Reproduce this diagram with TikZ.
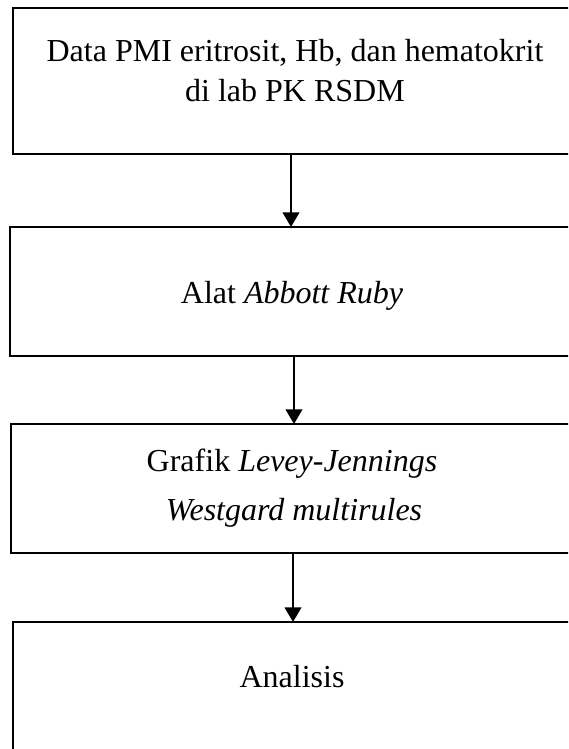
\documentclass[tikz,border=0pt]{standalone}
\usepackage{fontspec}
\setmainfont{Liberation Serif}
\usetikzlibrary{arrows.meta}
\begin{document}
\begin{tikzpicture}[x=0.75pt,y=-0.75pt,
  boxnode/.style={draw=black,line width=1.8pt,rectangle,inner sep=0pt,outer sep=0pt},
  txt/.style={anchor=base,inner sep=0pt,font=\fontsize{24pt}{28pt}\selectfont},
  arr/.style={line width=1.5pt,-{Triangle[width=12.5pt,length=11pt]}}]
\useasboundingbox (0,0) rectangle (568,749);
\clip (0,0) rectangle (568,749);
\fill[white] (0,0) rectangle (568,749);
% boxes (right edges and last bottom lie outside the picture)
\node[boxnode,minimum width=425.25pt,minimum height=109.5pt] (b1) at (296.5,81) {};
\node[boxnode,minimum width=426.75pt,minimum height=96.75pt] (b2) at (294.5,291.5) {};
\node[boxnode,minimum width=426pt,minimum height=96.75pt] (b3) at (295,488.5) {};
\node[boxnode,minimum width=425.25pt,minimum height=120pt] (b4) at (296.5,702) {};
% texts
\node[txt] (t1a) at (295,62) {Data PMI eritrosit, Hb, dan hematokrit};
\node[txt] (t1b) at (295,101) {di lab PK RSDM};
\node[txt] (t2) at (292,303) {Alat \textit{Abbott Ruby}};
\node[txt] (t3a) at (292,471) {Grafik \textit{Levey-Jennings}};
\node[txt] (t3b) at (294,520) {\textit{Westgard multirules}};
\node[txt] (t4) at (292,687) {Analisis};
% arrows
\coordinate (x1) at (291,0);
\coordinate (x2) at (294,0);
\coordinate (x3) at (293,0);
\draw[arr] (x1 |- b1.south) -- (x1 |- b2.north);
\draw[arr] (x2 |- b2.south) -- (x2 |- b3.north);
\draw[arr] (x3 |- b3.south) -- (x3 |- b4.north);
\end{tikzpicture}
\end{document}
